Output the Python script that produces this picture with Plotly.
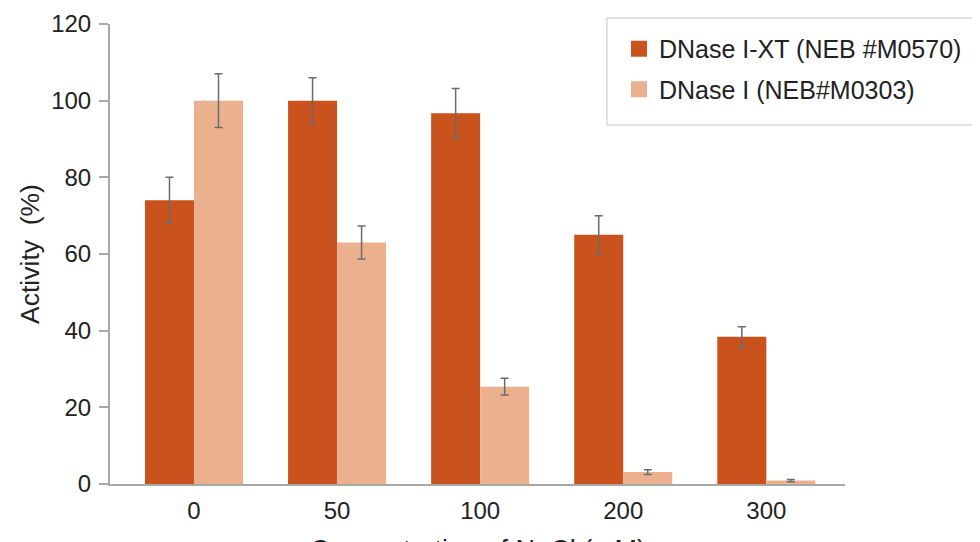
import plotly.graph_objects as go

categories = ["0", "50", "100", "200", "300"]
xt_values = [74, 100, 96.7, 65, 38.4]
xt_err = [6, 6, 6.5, 5, 2.6]
d1_values = [100, 63, 25.4, 3.1, 0.9]
d1_err = [7, 4.3, 2.2, 0.6, 0.3]
names = ["DNase I-XT (NEB #M0570)", "DNase I (NEB#M0303)"]
colors = ["#C9521D", "#EBB08D"]

FONT = "Liberation Sans, Arial, Helvetica, sans-serif"

fig = go.Figure()
for vals, errs, col in [(xt_values, xt_err, colors[0]), (d1_values, d1_err, colors[1])]:
    fig.add_trace(go.Bar(
        x=categories, y=vals, marker=dict(color=col, line=dict(width=0)),
        error_y=dict(type="data", array=errs, visible=True, color="#6b6b6b", thickness=1.5, width=4),
        showlegend=False,
    ))
# legend entries
for i, (nm, col) in enumerate(zip(names, colors)):
    fig.add_trace(go.Scatter(
        x=[None], y=[None], mode="markers", name=nm, legendgroup=f"g{i}",
        marker=dict(symbol="square", size=16, color=col),
    ))

fig.update_layout(
    width=980, height=542,
    margin=dict(l=102, r=143, t=16, b=66),
    paper_bgcolor="white", plot_bgcolor="white",
    barmode="group", bargap=0.315, bargroupgap=0,
    font=dict(family=FONT, size=24, color="#222"),
    legend=dict(
        x=0.6925, y=0.9957, xanchor="left", yanchor="top",
        borderwidth=0, bgcolor="rgba(0,0,0,0)",
        font=dict(size=25, color="#222"), tracegroupgap=5,
        traceorder="grouped",
    ),
    xaxis=dict(
        type="category", range=[-0.587, 4.55], showgrid=False, automargin=False,
        showline=True, linecolor="#a8a8a8", linewidth=2, ticks="",
        ticklabelstandoff=4, tickfont=dict(size=24, color="#222"),
    ),
    yaxis=dict(
        range=[0, 120], tickvals=[0, 20, 40, 60, 80, 100, 120], showgrid=False,
        automargin=False,
        zeroline=False, showline=True, linecolor="#a8a8a8", linewidth=2,
        ticks="outside", ticklen=9, tickcolor="#a8a8a8", tickwidth=1.5,
        ticklabelstandoff=3,
        tickfont=dict(size=24, color="#222"),
        title=dict(text="Activity\u00a0 (%)", font=dict(size=26.5, color="#222"), standoff=4),
    ),
    shapes=[dict(
        type="rect", xref="paper", yref="paper",
        x0=0.676, x1=1.1905, y0=0.7804, y1=1.013,
        line=dict(color="#d9d9d9", width=1.5), fillcolor="rgba(0,0,0,0)", layer="below",
    )],
)
fig.add_annotation(
    text="Concentration of NaCl (mM)", xref="paper", yref="paper",
    x=0.5, y=-0.1067, xanchor="center", yanchor="top", showarrow=False,
    font=dict(size=27, color="#222"),
)

fig.write_html("out.html")
